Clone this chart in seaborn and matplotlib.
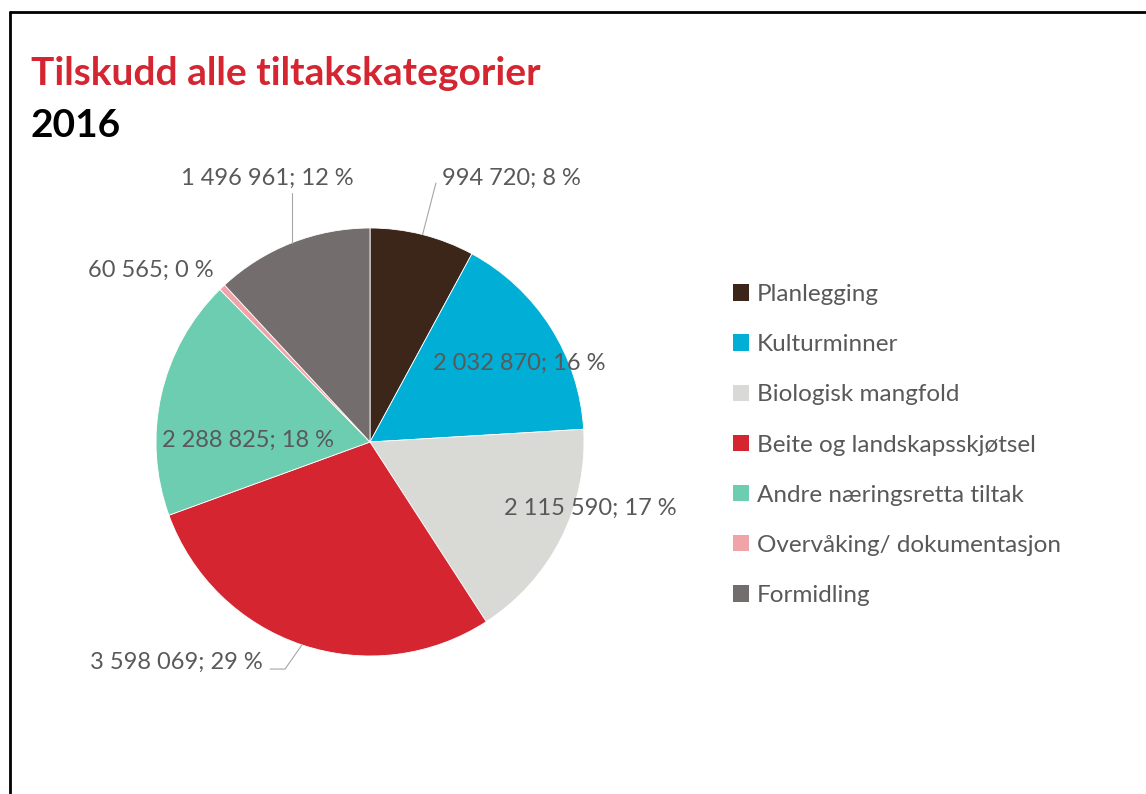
import matplotlib
matplotlib.use("Agg")
import matplotlib.pyplot as plt
import matplotlib.patches as mpatches
import seaborn as sns
import numpy as np

categories = ["Planlegging", "Kulturminner", "Biologisk mangfold",
              "Beite og landskapsskjøtsel", "Andre næringsretta tiltak",
              "Overvåking/ dokumentasjon", "Formidling"]
values = [994720, 2032870, 2115590, 3598069, 2288825, 60565, 1496961]
colors = ["#3B2619", "#00AED6", "#D9D9D6", "#D42530", "#6DCDB1", "#F0A3A8", "#736E6D"]

title = "Tilskudd alle tiltakskategorier"
subtitle = "2016"

sns.set_theme(style="white")
plt.rcParams['font.family'] = ['Lato', 'DejaVu Sans']

fig = plt.figure(figsize=(11.46, 7.94), dpi=100)
fig.patch.set_edgecolor("none")
fig.patch.set_linewidth(0)
ax = fig.add_axes([156 / 1146, 1 - 656 / 794, 428 / 1146, 428 / 794])

pal = sns.color_palette(colors)
wedges, _ = ax.pie(values, colors=pal, startangle=90, counterclock=False,
                   wedgeprops=dict(edgecolor="white", linewidth=0.6))
ax.set_xlim(-1, 1)
ax.set_ylim(-1, 1)
ax.set_aspect("equal")
ax.axis("off")

total = sum(values)
labels = [f"{v:,}".replace(",", " ") + f"; {round(v / total * 100)} %" for v in values]

# label placement (in pie radius units) and alignment
label_pos = [(0.336, 1.234, "left"), (0.696, 0.369, "center"), (1.028, -0.308, "center"),
             (-0.50, -1.028, "right"), (-0.570, 0.009, "center"), (-0.729, 0.804, "right"),
             (-0.075, 1.234, "right")]
txt_col = "#595959"
for lab, (x, y, ha) in zip(labels, label_pos):
    ax.text(x, y, lab, ha=ha, va="center", fontsize=17, color=txt_col, clip_on=False)

def edge_point(w):
    a = np.deg2rad((w.theta1 + w.theta2) / 2)
    return np.cos(a), np.sin(a)

lc = "#A6A6A6"
# Planlegging leader
ex, ey = edge_point(wedges[0])
ax.plot([ex, 0.308], [ey, 1.21], color=lc, lw=0.8, clip_on=False)
# Formidling leader
ex, ey = edge_point(wedges[6])
ax.plot([ex, ex], [ey, 1.164], color=lc, lw=0.8, clip_on=False)
# Beite leader
ex, ey = edge_point(wedges[3])
ax.plot([ex, -0.397, -0.467], [ey, -1.061, -1.061], color=lc, lw=0.8, clip_on=False)

handles = [mpatches.Patch(facecolor=c, edgecolor="none") for c in pal]
fig.legend(handles, categories, loc="upper left", bbox_to_anchor=(733 / 1146, 1 - 284 / 794),
           frameon=False, fontsize=17.5, handlelength=0.66, handleheight=0.66,
           handletextpad=0.33, labelspacing=1.2, borderpad=0, borderaxespad=0,
           labelcolor=txt_col)

fig.text(31 / 1146, 1 - 85 / 794, title, fontsize=28, fontweight="bold",
         color="#D42530", va="baseline", ha="left")
fig.text(31 / 1146, 1 - 137 / 794, subtitle, fontsize=28, fontweight="bold",
         color="black", va="baseline", ha="left")

# outer frame of the chart (cut off at right and bottom)
bx, by = 10 / 1146, 1 - 12 / 794
fig.add_artist(plt.Line2D([bx, bx], [0, by], transform=fig.transFigure, color="black", lw=2))
fig.add_artist(plt.Line2D([bx, 1], [by, by], transform=fig.transFigure, color="black", lw=2))

fig.savefig("out.png", dpi=100)
